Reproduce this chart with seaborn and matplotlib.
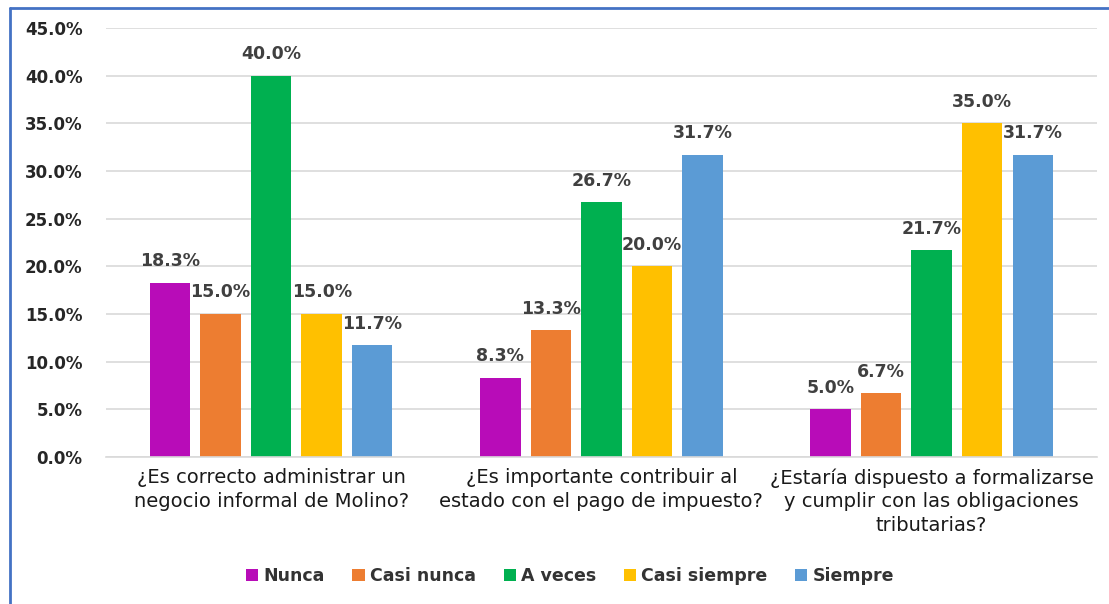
import matplotlib
matplotlib.use("Agg")
import matplotlib.pyplot as plt
from matplotlib.lines import Line2D
from matplotlib.patches import Patch
from matplotlib.ticker import PercentFormatter
import numpy as np
import pandas as pd
import seaborn as sns

# data (percent)
preguntas = ["¿Es correcto administrar un\nnegocio informal de Molino?",
             "¿Es importante contribuir al\nestado con el pago de impuesto?",
             "¿Estaría dispuesto a formalizarse\ny cumplir con las obligaciones\ntributarias?"]
respuestas = ["Nunca", "Casi nunca", "A veces", "Casi siempre", "Siempre"]
nunca = [18.3, 8.3, 5.0]
casi_nunca = [15.0, 13.3, 6.7]
a_veces = [40.0, 26.7, 21.7]
casi_siempre = [15.0, 20.0, 35.0]
siempre = [11.7, 31.7, 31.7]
colores = ["#B80CB8", "#ED7D31", "#00B050", "#FFC000", "#5B9BD5"]

series = [nunca, casi_nunca, a_veces, casi_siempre, siempre]
rows = []
for r, vals in zip(respuestas, series):
    for p, v in zip(preguntas, vals):
        rows.append({"pregunta": p, "respuesta": r, "valor": v})
df = pd.DataFrame(rows)

sns.set_style("white")
plt.rcParams["font.family"] = ["DejaVu Sans"]

fig = plt.figure(figsize=(11.09, 6.04), dpi=100)
ax = fig.add_axes([0.0956, 0.2434, 0.8934, 0.7102])

sns.barplot(data=df, x="pregunta", y="valor", hue="respuesta",
            order=preguntas, hue_order=respuestas, palette=colores,
            saturation=1, linewidth=0,
            width=0.765, gap=0.2, ax=ax, legend=False)

for cont in ax.containers:
    ax.bar_label(cont, fmt="%.1f%%", padding=9, fontsize=12.5,
                 fontweight="bold", color="#404040")

ax.set_ylim(0, 45)
ax.set_yticks(np.arange(0, 46, 5))
ax.yaxis.set_major_formatter(PercentFormatter(decimals=1))
ax.set_xlim(-0.5, 2.5)
ax.grid(axis="y", color="#D9D9D9", linewidth=1.2)
ax.set_axisbelow(True)
for s in ["top", "right", "left"]:
    ax.spines[s].set_visible(False)
ax.spines["bottom"].set_color("#D9D9D9")
ax.spines["bottom"].set_linewidth(1.2)
ax.set_xlabel("")
ax.set_ylabel("")
ax.tick_params(axis="y", length=0, pad=17, labelsize=12, colors="#262626")
ax.tick_params(axis="x", length=0, pad=8, labelsize=14, colors="#1a1a1a")
for t in ax.get_yticklabels():
    t.set_fontweight("bold")
for t in ax.get_xticklabels():
    t.set_linespacing(1.3)

handles = [Patch(facecolor=c, edgecolor="none") for c in colores]
leg = fig.legend(handles, respuestas, loc="center", bbox_to_anchor=(0.514, 0.046),
                 ncol=5, frameon=False, handlelength=0.7, handleheight=0.7,
                 handletextpad=0.3, columnspacing=1.6,
                 prop={"size": 12.5, "weight": "bold"})
for t in leg.get_texts():
    t.set_color("#333333")

# blue chart frame (clipped at right and bottom)
x0 = 10 / 1109
y0 = 1 - 8 / 604
fig.add_artist(Line2D([x0, x0], [0, y0], color="#4472C4", linewidth=2))
fig.add_artist(Line2D([x0, 1], [y0, y0], color="#4472C4", linewidth=2))

fig.savefig("out.png", dpi=100)
